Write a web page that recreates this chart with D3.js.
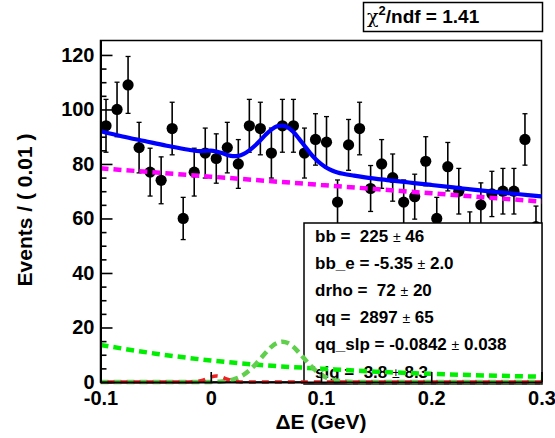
<!DOCTYPE html>
<html><head><meta charset="utf-8">
<script src="https://cdn.jsdelivr.net/npm/d3@7"></script>
<style>
body{margin:0;background:#fff}
svg{display:block}
text{font-family:"Liberation Sans",Arial,Helvetica,sans-serif;font-weight:bold;fill:#000}
</style>
</head><body><svg id="c" width="555" height="438"></svg>
<script>
// ---- data ----
const binCenters = [-0.095,-0.085,-0.075,-0.065,-0.055,-0.045,-0.035,-0.025,-0.015,-0.005,
  0.005,0.015,0.025,0.035,0.045,0.055,0.065,0.075,0.085,0.095,
  0.105,0.115,0.125,0.135,0.145,0.155,0.165,0.175,0.185,0.195,
  0.205,0.215,0.225,0.235,0.245,0.255,0.265,0.275,0.285,0.295];
const counts = [94,100,109,86,77,74,93,60,77,84,82,86,80,94,93,84,94,94,84,89,
  88,66,87,93,71,80,75,66,68,81,60,79,70,55,65,69,70,70,89,57];

const fitX = [-0.1,-0.08,-0.06,-0.04,-0.02,-0.01,-0.005,0,0.005,0.01,0.015,0.02,0.025,0.03,0.035,
  0.04,0.045,0.05,0.055,0.06,0.065,0.07,0.075,0.08,0.085,0.09,0.095,0.1,0.105,0.11,
  0.115,0.12,0.13,0.14,0.16,0.18,0.2,0.22,0.24,0.26,0.28,0.3];
const totalY = [92.0,90.1,88.4,86.7,85.2,84.7,84.8,84.9,84.6,84.0,83.3,82.9,83.0,83.7,85.0,
  86.7,88.7,90.8,92.6,93.8,94.1,93.4,91.7,89.3,86.7,84.1,81.8,80.0,78.6,77.6,
  76.9,76.4,75.7,75.1,74.1,73.2,72.3,71.4,70.5,69.7,68.9,68.1];

const qqX = [-0.1,0,0.1,0.2,0.3];
const qqY = [78.4,75.35,72.3,69.25,66.2];

const bbX = [-0.1,-0.05,0,0.05,0.1,0.15,0.2,0.25,0.3];
const bbY = [13.6,10.4,7.9,6.1,4.9,3.8,3.0,2.4,1.95];

const drhoX = [-0.1,-0.02,0,0.01,0.02,0.025,0.03,0.035,0.04,0.045,0.05,0.055,0.06,0.065,0.07,
  0.075,0.08,0.085,0.09,0.095,0.1,0.105,0.11,0.12,0.13,0.15,0.3];
const drhoY = [0,0,0.04,0.22,0.9,1.6,2.7,4.25,6.2,8.5,10.8,12.9,14.3,14.8,14.3,
  12.9,10.8,8.5,6.2,4.25,2.7,1.6,0.9,0.22,0.04,0,0];

const sigX = [-0.1,-0.03,-0.02,-0.015,-0.01,-0.005,0,0.005,0.01,0.015,0.02,0.025,0.03,0.04,0.3];
const sigY = [0,0,0.02,0.1,0.38,1.0,1.8,2.2,1.8,1.0,0.38,0.1,0.02,0,0];

const xTicks = [-0.1,0,0.1,0.2,0.3];
const xTickLabels = ["-0.1","0","0.1","0.2","0.3"];
const yTicks = [0,20,40,60,80,100,120];
const yMinorTicks = [5,10,15,25,30,35,45,50,55,65,70,75,85,90,95,105,110,115];

const paramNames = ["bb","bb_e","drho","qq","qq_slp","sig"];
const paramValues = [" 225","-5.35"," 72"," 2897","-0.0842"," 3.8"];
const paramErrors = ["46","2.0","20","65","0.038","8.3"];
const chi2Text = "1.41";
const xTitle = "\u0394E (GeV)";
const yTitle = "Events / ( 0.01 )";

// ---- layout ----
const L = 100.5, R = 541.5, T = 40.5, B = 382;
const svg = d3.select("#c");
const x = d3.scaleLinear().domain([-0.1,0.3]).range([L,R]);
const y = d3.scaleLinear().domain([0,125.3]).range([B,T]);

svg.append("rect").attr("width",555).attr("height",438).attr("fill","#fff");
svg.append("rect").attr("x",L).attr("y",T).attr("width",R-L).attr("height",B-T)
  .attr("fill","#fff").attr("stroke","#000").attr("stroke-width",1.5);

// ---- data points ----
const pts = svg.append("g");
binCenters.forEach((c,i)=>{
  const n = counts[i], e = Math.sqrt(n);
  const cx = x(c);
  pts.append("line").attr("x1",cx).attr("x2",cx).attr("y1",y(n+e)).attr("y2",y(n-e))
    .attr("stroke","#000").attr("stroke-width",1.6);
  [n+e,n-e].forEach(v=>pts.append("line").attr("x1",cx-2.5).attr("x2",cx+2.5)
    .attr("y1",y(v)).attr("y2",y(v)).attr("stroke","#000").attr("stroke-width",1.3));
  pts.append("circle").attr("cx",cx).attr("cy",y(n)).attr("r",5.6).attr("fill","#000");
});

// ---- parameter box ----
const box = svg.append("g");
box.append("rect").attr("x",304).attr("y",223).attr("width",238).attr("height",161)
  .attr("fill","#fff").attr("stroke","#000").attr("stroke-width",1.5);
paramNames.forEach((p,i)=>{
  const t = box.append("text").attr("x",315).attr("y",242+i*27.1)
    .attr("font-size",17).style("white-space","pre");
  t.append("tspan").text(p+" = "+paramValues[i]+" ");
  t.append("tspan").attr("font-weight","normal").attr("font-size",14).text("\u00b1");
  t.append("tspan").text(" "+paramErrors[i]);
});

// ---- curves ----
function path(xs,ys,color,w,dash,offset){
  const line = d3.line().x(d=>x(d[0])).y(d=>y(d[1])).curve(d3.curveMonotoneX);
  svg.append("path").attr("d",line(xs.map((v,i)=>[v,ys[i]])))
    .attr("fill","none").attr("stroke",color).attr("stroke-width",w)
    .attr("stroke-dasharray",dash||null).attr("stroke-dashoffset",offset||0);
}
path(qqX,qqY,"#ff00ff",4.5,"8,5");
path(bbX,bbY,"#00ee00",4.5,"8,5");
path(drhoX,drhoY,"#5fcf4c",4.5,"8,5",0);
path(sigX,sigY,"#ee2020",3.5,"7,6",6);
path(fitX,totalY,"#0000ff",4.2);

// ---- axes ----
const yAxis = d3.axisLeft(y).tickValues(yTicks).tickSizeInner(-12).tickSizeOuter(0).tickPadding(6);
const gy = svg.append("g").attr("transform",`translate(${L},0)`).call(yAxis);
const yMinor = d3.axisLeft(y).tickValues(yMinorTicks).tickSizeInner(-6).tickSizeOuter(0).tickFormat("");
const gym = svg.append("g").attr("transform",`translate(${L},0)`).call(yMinor);
const xAxis = d3.axisBottom(x).tickValues(xTicks).tickFormat((d,i)=>xTickLabels[i])
  .tickSizeInner(-10).tickSizeOuter(0).tickPadding(9);
const gx = svg.append("g").attr("transform",`translate(0,${B})`).call(xAxis);
[gy,gym,gx].forEach(g=>{
  g.selectAll(".domain").attr("stroke","#000").attr("stroke-width",2);
  g.selectAll(".tick line").attr("stroke","#000").attr("stroke-width",1.6);
  g.selectAll("text").attr("font-size",20).attr("font-family","Liberation Sans, Arial, sans-serif")
    .attr("font-weight","bold").attr("fill","#000");
});

// ---- titles ----
svg.append("text").attr("x",x(0.1)).attr("y",429).attr("text-anchor","middle")
  .attr("font-size",21).text(xTitle);
svg.append("text").attr("transform","translate(31.5,210) rotate(-90)")
  .attr("text-anchor","middle").attr("font-size",21).text(yTitle);

// ---- chi2 box ----
svg.append("rect").attr("x",363.5).attr("y",2.5).attr("width",179).attr("height",29)
  .attr("fill","#fff").attr("stroke","#000").attr("stroke-width",1.5);
const ct = svg.append("text").attr("x",367).attr("y",23).attr("font-size",19);
ct.append("tspan").attr("font-family","DejaVu Serif, serif").attr("font-weight","normal").text("\u03c7");
ct.append("tspan").attr("font-size",13).attr("dy",-8).text("2");
ct.append("tspan").attr("dy",8).text("/ndf = "+chi2Text);
</script></body></html>
